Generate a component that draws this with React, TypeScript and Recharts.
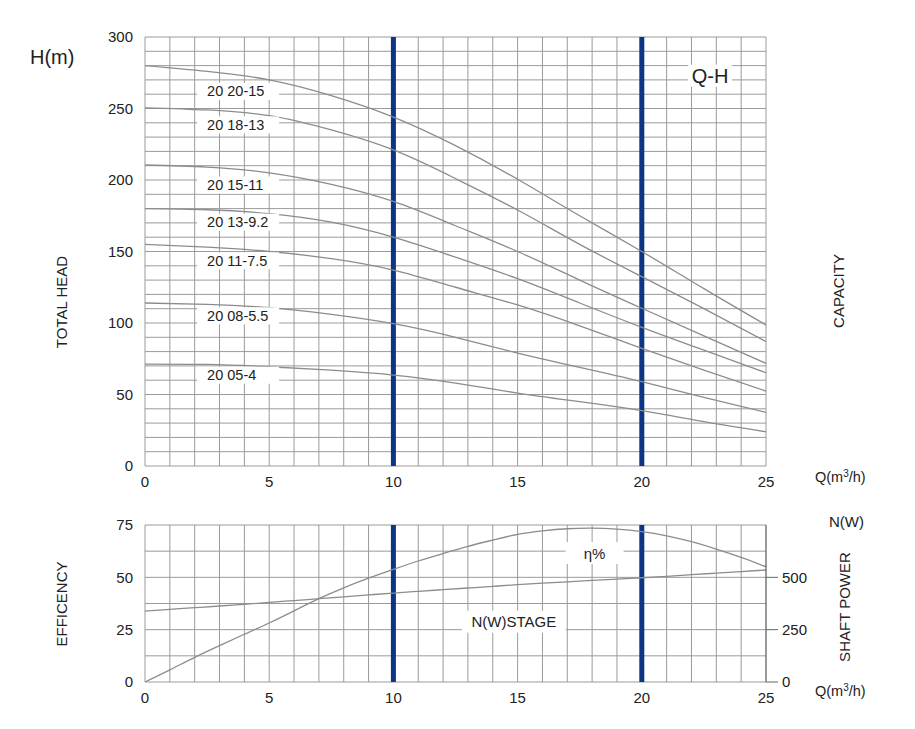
import { LineChart, Line, XAxis, YAxis, CartesianGrid, ReferenceLine, ReferenceDot } from 'recharts';

// flow rate Q (m3/h) sampled for the Q-H curves
const flow = [0, 2.5, 5, 7.5, 10, 12.5, 15, 17.5, 20, 22.5, 25];

// Q-H curves, head in m
const head2015 = [280, 276, 270, 259, 244, 224, 200.5, 175, 150, 124, 98.6];
const head1813 = [250.5, 249, 245, 235, 221, 201, 179, 155, 132.4, 110, 87];
const head1511 = [210.5, 209, 205, 197, 185, 168, 150, 130, 110.3, 91, 71.8];
const head1392 = [180, 179.2, 176.5, 170.5, 160, 146, 131, 114, 97, 81, 65.2];
const head1175 = [155, 153, 150, 145, 137, 125, 112.6, 98, 82.3, 67, 52.4];
const head0855 = [114, 113, 110.7, 106, 99.5, 90, 79, 69, 59, 48, 37.5];
const head0504 = [71.3, 71, 69.4, 67, 63.6, 58, 51, 45, 38.7, 31, 23.9];

const modelNames = ['20 20-15', '20 18-13', '20 15-11', '20 13-9.2', '20 11-7.5', '20 08-5.5', '20 05-4'];
const headCurves = [head2015, head1813, head1511, head1392, head1175, head0855, head0504];
// head value where each model name is written (at Q = 2.5)
const nameHeads = [262, 238.5, 196.5, 170.5, 143.5, 105, 63.5];

// flow for the lower chart, one point per m3/h
const flowFine = Array.from({ length: 26 }, (_, i) => i);
// efficiency %
const efficiency = [0, 5.8, 11.8, 17.4, 22.8, 28.2, 34, 39.8, 45, 49.6, 53.8, 57.8, 61.4, 64.8, 67.8, 70.5, 72.2, 73.2, 73.5, 73, 71.8, 69.8, 67, 63.5, 59.5, 55];
// shaft power per stage, W
const stagePower = [339, 347, 355, 363, 371.5, 380, 389, 398, 407, 416, 425, 433, 441, 449, 457, 465, 472, 478.5, 485, 491.5, 498, 505, 512.5, 520, 527.5, 535];

const qTicks = Array.from({ length: 26 }, (_, i) => i);
const headTicks = Array.from({ length: 31 }, (_, i) => i * 10);
const effTicks = [0, 12.5, 25, 37.5, 50, 62.5, 75];
const powerTicks = [0, 250, 500];
const markFlows = [10, 20];

const font = '"Liberation Sans", Arial, sans-serif';
const gridColor = '#9a9a9a';
const curveColor = '#8c8c8c';
const markColor = '#0d3585';

const headRows = flow.map((q, i) => {
	const row: any = { q };
	headCurves.forEach((c, k) => {
		row['h' + k] = c[i];
	});
	return row;
});

const powerRows = flowFine.map((q, i) => ({ q, eff: efficiency[i], pow: stagePower[i] }));

const tickStyle = { fill: '#222', fontSize: 15, fontFamily: font };

function boxLabel(text: string, fontSize: number, w: number, h: number, centred: boolean) {
	return (props: any) => {
		const { cx, cy } = props;
		const left = centred ? cx - w / 2 : cx - 10;
		return (
			<g>
				<rect x={left} y={cy - h / 2} width={w} height={h} fill="#fff" />
				<text
					x={cx}
					y={cy}
					textAnchor={centred ? 'middle' : 'start'}
					dominantBaseline="central"
					fontSize={fontSize}
					fontFamily={font}
					fill="#222"
				>
					{text}
				</text>
			</g>
		);
	};
}

export default function App() {
	return (
		<div style={{ position: 'absolute', left: 0, top: 0, width: 915, height: 729, background: '#fff', fontFamily: font }}>
			<div style={{ position: 'absolute', left: 0, top: 0 }}>
				<LineChart width={915} height={500} data={headRows} margin={{ top: 37, right: 149, bottom: 4, left: 85 }}>
					<CartesianGrid stroke={gridColor} strokeWidth={1} />
					<XAxis
						dataKey="q"
						type="number"
						domain={[0, 25]}
						ticks={qTicks}
						interval={0}
						tickFormatter={(v: number) => (v % 5 === 0 ? String(v) : '')}
						tickLine={false}
						axisLine={false}
						tickSize={4}
						tickMargin={6}
						height={30}
						tick={tickStyle}
					/>
					<YAxis
						type="number"
						domain={[0, 300]}
						ticks={headTicks}
						interval={0}
						tickFormatter={(v: number) => (v % 50 === 0 ? String(v) : '')}
						tickLine={false}
						axisLine={false}
						tickSize={5}
						tickMargin={7}
						width={60}
						tick={tickStyle}
					/>
					{markFlows.map((q) => (
						<ReferenceLine key={q} x={q} stroke={markColor} strokeWidth={5} />
					))}
					{headCurves.map((_, k) => (
						<Line
							key={k}
							dataKey={'h' + k}
							type="natural"
							stroke={curveColor}
							strokeWidth={1.3}
							dot={false}
							isAnimationActive={false}
						/>
					))}
					{modelNames.map((name, k) => (
						<ReferenceDot key={name} x={2.5} y={nameHeads[k]} shape={boxLabel(name, 14.5, 82, 17, false)} />
					))}
					<ReferenceDot x={22.75} y={273} shape={boxLabel('Q-H', 20, 44, 22, true)} />
				</LineChart>
			</div>
			<div style={{ position: 'absolute', left: 0, top: 500 }}>
				<LineChart width={915} height={229} data={powerRows} margin={{ top: 25, right: 99, bottom: 17, left: 85 }}>
					<CartesianGrid stroke={gridColor} strokeWidth={1} yAxisId="eff" />
					<XAxis
						dataKey="q"
						type="number"
						domain={[0, 25]}
						ticks={qTicks}
						interval={0}
						tickFormatter={(v: number) => (v % 5 === 0 ? String(v) : '')}
						tickLine={false}
						axisLine={false}
						tickSize={4}
						tickMargin={6}
						height={30}
						tick={tickStyle}
					/>
					<YAxis
						yAxisId="eff"
						type="number"
						domain={[0, 75]}
						ticks={effTicks}
						interval={0}
						tickFormatter={(v: number) => (v % 25 === 0 ? String(v) : '')}
						tickLine={false}
						axisLine={false}
						tickSize={5}
						tickMargin={7}
						width={60}
						tick={tickStyle}
					/>
					<YAxis
						yAxisId="pow"
						orientation="right"
						type="number"
						domain={[0, 750]}
						ticks={powerTicks}
						interval={0}
						tickLine={{ stroke: '#666' }}
						axisLine={{ stroke: '#666' }}
						tickSize={12}
						tickMargin={4}
						width={50}
						tick={tickStyle}
					/>
					{markFlows.map((q) => (
						<ReferenceLine key={q} x={q} yAxisId="eff" stroke={markColor} strokeWidth={5} />
					))}
					<Line yAxisId="eff" dataKey="eff" type="natural" stroke={curveColor} strokeWidth={1.3} dot={false} isAnimationActive={false} />
					<Line yAxisId="pow" dataKey="pow" type="natural" stroke={curveColor} strokeWidth={1.3} dot={false} isAnimationActive={false} />
					<ReferenceDot yAxisId="eff" x={18.1} y={61.6} shape={boxLabel('η%', 15, 58, 22, true)} />
					<ReferenceDot yAxisId="eff" x={14.85} y={28.8} shape={boxLabel('N(W)STAGE', 15, 104, 22, true)} />
				</LineChart>
			</div>
			<svg width={915} height={729} style={{ position: 'absolute', left: 0, top: 0, pointerEvents: 'none' }}>
				<g fontFamily={font} fill="#222">
					<text x={30} y={64} fontSize={20}>H(m)</text>
					<text x={61} y={302} fontSize={15} textAnchor="middle" dominantBaseline="central" transform="rotate(-90 61 302)">TOTAL HEAD</text>
					<text x={838} y={291} fontSize={15} textAnchor="middle" dominantBaseline="central" transform="rotate(-90 838 291)">CAPACITY</text>
					<text x={815} y={482} fontSize={14.5}>
						Q(m<tspan dy={-5} fontSize={10}>3</tspan><tspan dy={5}>/h)</tspan>
					</text>
					<text x={829} y={527} fontSize={15}>N(W)</text>
					<text x={61} y={604} fontSize={15} textAnchor="middle" dominantBaseline="central" transform="rotate(-90 61 604)">EFFICENCY</text>
					<text x={844} y={607} fontSize={15} textAnchor="middle" dominantBaseline="central" transform="rotate(-90 844 607)">SHAFT POWER</text>
					<text x={815} y={696} fontSize={14.5}>
						Q(m<tspan dy={-5} fontSize={10}>3</tspan><tspan dy={5}>/h)</tspan>
					</text>
				</g>
			</svg>
		</div>
	);
}
